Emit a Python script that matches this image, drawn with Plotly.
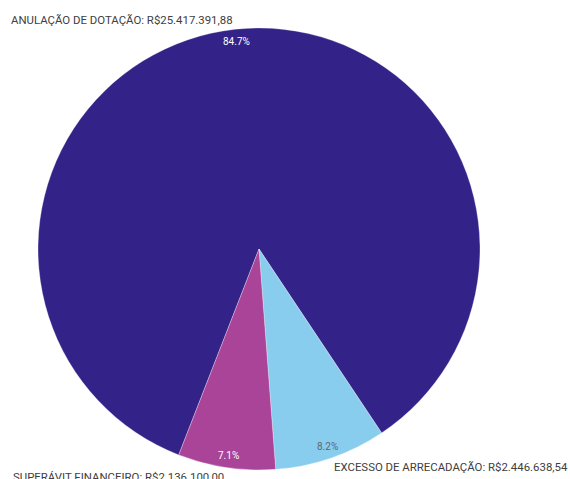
import math
import plotly.graph_objects as go

categories = ["ANULAÇÃO DE DOTAÇÃO", "EXCESSO DE ARRECADAÇÃO", "SUPERÁVIT FINANCEIRO"]
values = [25417391.88, 2446638.54, 2136100.00]
colors = ["#332288", "#88CCEE", "#AA4499"]
pct_colors = ["#FFFFFF", "#5A6A74", "#FFFFFF"]

W, H = 570, 479
ROT = 201.3
# pie domain in pixels
DX0, DX1 = 38, 480
DY0, DY1 = 28, 470  # from top
cx, cy = (DX0 + DX1) / 2, (DY0 + DY1) / 2
R = (DX1 - DX0) / 2


def fmt_brl(v):
    s = f"{v:,.2f}"
    return "R$" + s.replace(",", "X").replace(".", ",").replace("X", ".")


fig = go.Figure(go.Pie(
    labels=categories,
    values=values,
    marker=dict(colors=colors, line=dict(width=0.6, color="rgba(255,255,255,0.5)")),
    sort=False,
    direction="clockwise",
    rotation=ROT,
    textinfo="none",
    hoverinfo="label+value+percent",
    showlegend=False,
    domain=dict(x=[DX0 / W, DX1 / W], y=[1 - DY1 / H, 1 - DY0 / H]),
))

total = sum(values)
ang = ROT
annotations = []
label_font = dict(family="Roboto", size=11.4, color="#404040")
for i, (c, v) in enumerate(zip(categories, values)):
    span = v / total * 360
    mid = math.radians(ang + span / 2)
    ang += span
    sx, sy = math.sin(mid), -math.cos(mid)
    # percentage inside near rim
    px, py = cx + 0.945 * R * sx, cy + 0.945 * R * sy
    annotations.append(dict(
        x=px / W, y=1 - py / H, xref="paper", yref="paper",
        text=f"{v / total * 100:.1f}%", showarrow=False,
        font=dict(family="Roboto", size=10, color=pct_colors[i]),
        xanchor="center", yanchor="middle",
    ))
    # outer label
    ex, ey = cx + R * sx, cy + R * sy
    annotations.append(dict(
        x=ex / W, y=1 - ey / H, xref="paper", yref="paper",
        text=f"{c}: {fmt_brl(v)}", showarrow=False,
        font=label_font,
        xanchor="right" if sx < 0 else "left",
        yanchor="bottom" if sy < 0 else "top",
        xshift=(1 if sx > 0 else 0),
    ))

fig.update_layout(
    width=W, height=H,
    margin=dict(l=0, r=0, t=0, b=0),
    paper_bgcolor="white",
    plot_bgcolor="white",
    annotations=annotations,
)

fig.write_html("out.html")
